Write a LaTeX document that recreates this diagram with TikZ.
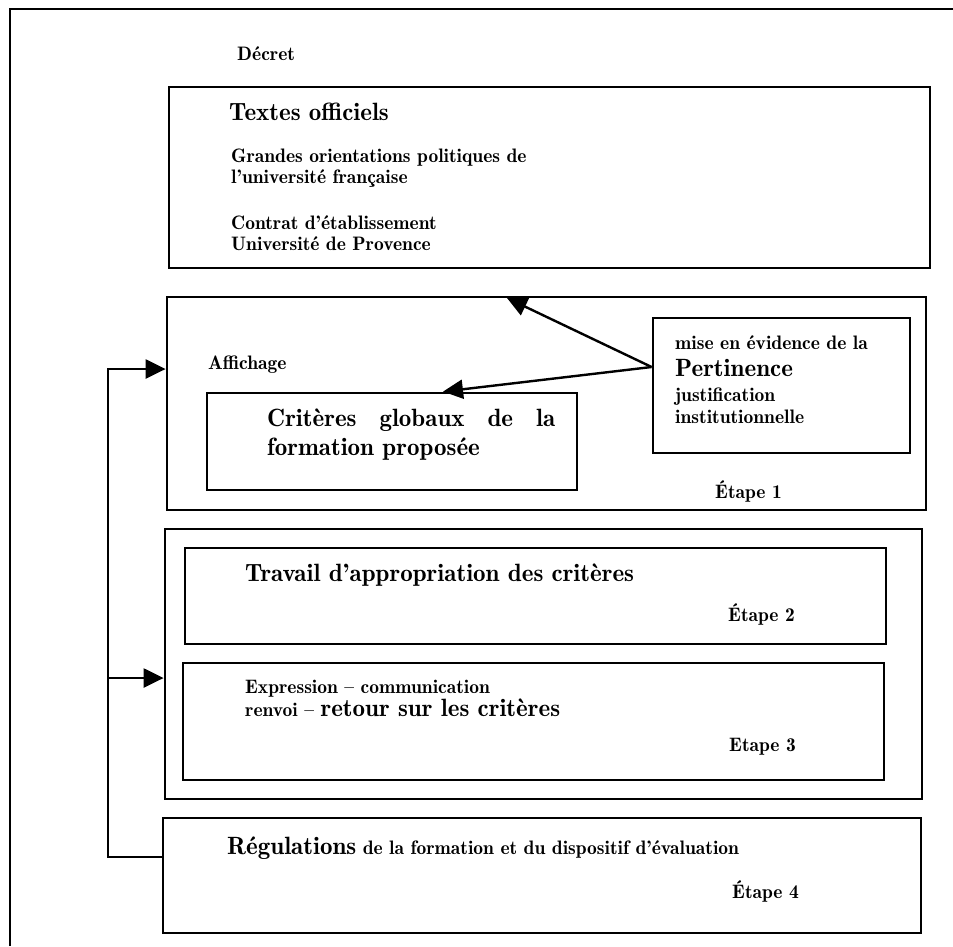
\documentclass[tikz,border=0pt]{standalone}
\usetikzlibrary{arrows.meta,positioning}

\begin{document}
\begin{tikzpicture}[x=1pt,y=-1pt,
    cadre/.style={draw,line width=2.8pt,inner sep=0pt},
    petit/.style={anchor=base west,inner sep=0pt,font=\fontseries{b}\fontsize{19.5}{23}\selectfont},
    grand/.style={anchor=base west,inner sep=0pt,font=\fontseries{b}\fontsize{25}{29}\selectfont},
    fleche/.style={line width=2.4pt,-{Triangle[length=20pt,width=19pt]}}]
  \useasboundingbox (0,0) rectangle (953,946);
  \draw[line width=2.4pt] (10,946) -- (10,9) -- (953,9);

  % cadres
  \node[cadre,minimum width=761pt,minimum height=181pt] (textes) at (549.5,177.5) {};
  \node[cadre,minimum width=759pt,minimum height=213pt] (etapeun) at (546.5,403.5) {};
  \node[cadre,minimum width=370pt,minimum height=97pt] (crit) at (392,441.5) {};
  \node[cadre,minimum width=257pt,minimum height=135pt] (pert) at (781.5,385.5) {};
  \node[cadre,minimum width=757pt,minimum height=270pt] (etapes) at (543.5,664) {};
  \node[cadre,minimum width=701pt,minimum height=96pt] (travail) at (535.5,596) {};
  \node[cadre,minimum width=701pt,minimum height=117pt] (expr) at (533.5,721.5) {};
  \node[cadre,minimum width=758pt,minimum height=115pt] (regul) at (542,875.5) {};

  % textes
  \node[petit] (decret) at (237,60) {Décret};
  \node[grand] (titre) at (229,120) {Textes officiels};
  \node[petit] (grandes) at (231,162) {Grandes orientations politiques de};
  \node[petit] (univfr) at (231,183) {l'université française};
  \node[petit] (contrat) at (231,229) {Contrat d'établissement};
  \node[petit] (provence) at (231,250) {Université de Provence};

  \node[petit] (affichage) at (208,369) {Affichage};
  \node[grand] (crit1) at (267,426) {\makebox[288pt][s]{Critères globaux de la}};
  \node[grand] (crit2) at (267,455) {formation proposée};
  \node[petit] (mise) at (675,349) {mise en évidence de la};
  \node[grand] (pertinence) at (675,376) {Pertinence};
  \node[petit] (justif) at (675,401) {justification};
  \node[petit] (instit) at (675,423) {institutionnelle};
  \node[petit] (e1) at (715,498) {Étape 1};

  \node[grand] (appro) at (245,581) {Travail d'appropriation des critères};
  \node[petit] (e2) at (728,621) {Étape 2};
  \node[petit] (expression) at (245,693) {Expression – communication};
  \node[petit] (renvoi) at (245,716) {renvoi – {\fontsize{25}{29}\selectfont retour sur les critères}};
  \node[petit] (e3) at (729,751) {Etape 3};

  \node[petit] (regtxt) at (227,854) {{\fontsize{25}{29}\selectfont Régulations} de la formation et du dispositif d'évaluation};
  \node[petit] (e4) at (732,898) {Étape 4};

  % fleches
  \coordinate (haut) at (507,298);
  \coordinate (bus) at (108,369);
  \coordinate (branche) at (108,678);
  \draw[fleche] ([yshift=18.5pt]pert.west) -- (haut);
  \draw[fleche] ([yshift=18.5pt]pert.west) -- ([xshift=51pt]crit.north);
  \draw[fleche] ([yshift=18.5pt]regul.west) -| (bus) -- (bus -| etapeun.west);
  \draw[fleche] (branche) -- (branche -| etapes.west);
\end{tikzpicture}
\end{document}
